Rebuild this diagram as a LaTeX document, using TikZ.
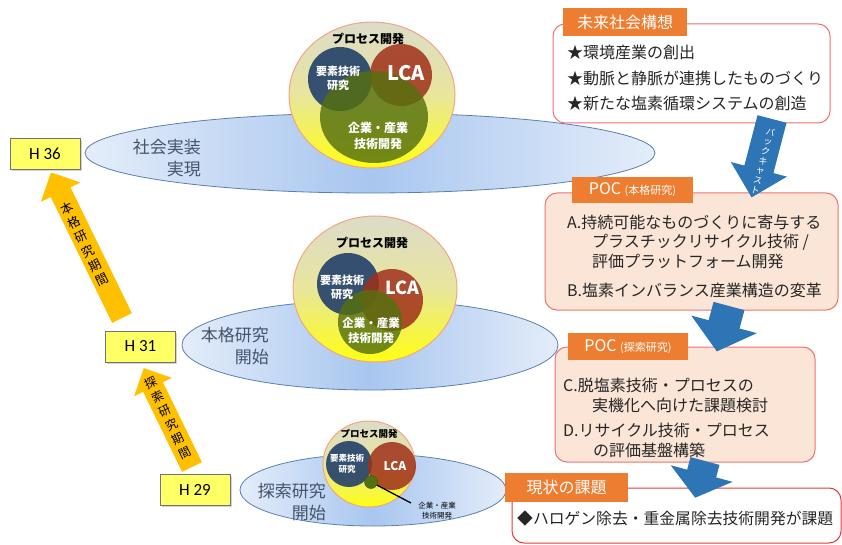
\documentclass[tikz,border=0pt]{standalone}
\usepackage{fontspec}
\setmainfont{Noto Sans CJK JP}
\newfontfamily\hfont{Carlito}
\usetikzlibrary{shapes.geometric,shadows}
\definecolor{orlab}{HTML}{ED7D31}
\definecolor{boxred}{HTML}{F07070}
\definecolor{boxredD}{HTML}{E53935}
\definecolor{peach}{HTML}{FBE5D6}
\definecolor{arrblue}{HTML}{2E75B6}
\definecolor{arrorange}{HTML}{FFC000}
\definecolor{hyellow}{HTML}{FFFF66}
\definecolor{elborder}{HTML}{5B7FAF}
\definecolor{ellight}{HTML}{E4EDFA}
\definecolor{eldark}{HTML}{A8C6EF}
\definecolor{eltext}{HTML}{44546A}
\definecolor{cblue}{HTML}{23406A}
\definecolor{cred}{HTML}{A0301A}
\definecolor{cgreen}{HTML}{55700F}
\definecolor{ctop}{HTML}{DCDBC9}
\definecolor{cmid}{HTML}{E8E69C}
\definecolor{cbot}{HTML}{FFFF10}
\definecolor{crim}{HTML}{F2A585}
\begin{document}
\begin{tikzpicture}[x=1pt,y=-1pt,
  hbox/.style={draw=black!55, line width=1pt, fill=hyellow, minimum width=70pt, minimum height=31pt, inner sep=0pt, font=\hfont\fontsize{17}{19}\selectfont, drop shadow={shadow xshift=1.5pt, shadow yshift=-1.5pt, opacity=0.35}},
  eltxt/.style={text=eltext, align=right, font=\fontsize{17}{22}\selectfont, inner sep=0pt},
  proc/.style={font=\bfseries\fontsize{12}{14}\selectfont, inner sep=0pt},
  ctxt/.style={text=white, font=\bfseries\fontsize{11}{14}\selectfont, align=center, inner sep=0pt},
  lab/.style={fill=orlab, text=white, inner sep=0pt, font=\fontsize{16}{18}\selectfont},
  btxt/.style={anchor=west, inner sep=0pt, text=black!85, font=\fontsize{16}{18}\selectfont},
  boxw/.style={draw=boxred, line width=1pt, fill=white, rounded corners=12pt, inner sep=0pt},
  boxp/.style={draw=boxred, line width=1pt, fill=peach, rounded corners=12pt, inner sep=0pt},
  elpath/.style={draw=elborder, line width=0.8pt, left color=ellight, right color=ellight, middle color=eldark},
  bigc/.style={top color=ctop, bottom color=cbot, middle color=cmid, draw=crim, line width=1pt}
]
\useasboundingbox (0,0) rectangle (842,545);

% ellipses
\path[elpath] (370,153) ellipse [x radius=285, y radius=40];
\path[elpath] (370,345) ellipse [x radius=188, y radius=45];
\path[elpath] (373,490) ellipse [x radius=133, y radius=36];

\node[eltxt, anchor=east] (e1) at (201,158) {社会実装\\実現};
\node[eltxt, anchor=east] (e2) at (269,346) {本格研究\\開始};
\node[eltxt, anchor=east] (e3) at (326,502) {探索研究\\開始};

% group 1
\path[bigc] (372,95) ellipse [x radius=83, y radius=73];
\fill[cblue, fill opacity=0.9] (340,79) circle [radius=32];
\fill[cred, fill opacity=0.85] (401,75) circle [radius=31];
\fill[cgreen, fill opacity=0.82] (374,117) ellipse [x radius=54, y radius=46];
\node[proc] (p1) at (368,39) {プロセス開発};
\node[ctxt] (s1) at (338,78) {要素技術\\研究};
\node[ctxt, font=\bfseries\fontsize{20}{22}\selectfont] (l1) at (406,73) {LCA};
\node[ctxt, font=\bfseries\fontsize{12}{16}\selectfont] (k1) at (378,136) {企業・産業\\技術開発};

% group 2
\path[bigc] (375,289) ellipse [x radius=82, y radius=73];
\fill[cblue, fill opacity=0.9] (348,284) circle [radius=31];
\fill[cred, fill opacity=0.85] (392,300) circle [radius=31];
\fill[cgreen, fill opacity=0.82] (370,322) circle [radius=32];
\node[proc] (p2) at (372,243) {プロセス開発};
\node[ctxt] (s2) at (342,287) {要素技術\\研究};
\node[ctxt, font=\bfseries\fontsize{18}{20}\selectfont] (l2) at (402,288) {LCA};
\node[ctxt, font=\bfseries\fontsize{11.5}{15}\selectfont] (k2) at (371,331) {企業・産業\\技術開発};

% group 3
\path[bigc] (369,464) ellipse [x radius=46, y radius=43];
\fill[cblue, fill opacity=0.9] (349,464) circle [radius=23];
\fill[cred, fill opacity=0.85] (392,466) circle [radius=24];
\node[fill=cgreen, draw=cgreen!70!black, circle, minimum size=13pt, inner sep=0pt] (g3) at (371,482) {};
\coordinate (g3end) at (411,503);
\draw[line width=1.3pt] (g3) -- (g3end);
\node[proc, font=\bfseries\fontsize{9.5}{11}\selectfont] (p3) at (369,434) {プロセス開発};
\node[ctxt, font=\bfseries\fontsize{8.5}{11}\selectfont] (s3) at (347,464) {要素技術\\研究};
\node[ctxt, font=\bfseries\fontsize{12}{14}\selectfont] (l3) at (395,466) {LCA};
\node[align=center, inner sep=0pt, font=\fontsize{7.5}{10}\selectfont] (k3) at (437,511) {企業・産業\\技術開発};

% H boxes
\node[hbox] (h36) at (45,154) {H 36};
\node[hbox] (h31) at (140.5,346.5) {H 31};
\node[hbox] (h29) at (195,489.5) {H 29};

% orange arrows
\begin{scope}[shift={(122,318)}, rotate=26]
\fill[arrorange] (-11,0) -- (-11,-140) -- (-22,-140) -- (0,-162) -- (22,-140) -- (11,-140) -- (11,0) -- cycle;
\end{scope}
\begin{scope}[shift={(192,467)}, rotate=26]
\fill[arrorange] (-11,0) -- (-11,-89) -- (-21,-89) -- (0,-110) -- (21,-89) -- (11,-89) -- (11,0) -- cycle;
\end{scope}
\node[rotate=26, align=center, inner sep=0pt, font=\fontsize{12.5}{16}\selectfont] (t1) at (85,244) {本\\格\\研\\究\\期\\間};
\node[rotate=26, align=center, inner sep=0pt, font=\fontsize{12}{15.5}\selectfont] (t2) at (168,418) {探\\索\\研\\究\\期\\間};

% right boxes
\node[boxw, minimum width=277pt, minimum height=99pt] (bA) at (691.5,73.5) {};
\node[lab, minimum width=124pt, minimum height=28pt] (lA) at (625,22) {未来社会構想};
\node[btxt] (a1) at (567,52) {★環境産業の創出};
\node[btxt] (a2) at (567,78) {★動脈と静脈が連携したものづくり};
\node[btxt] (a3) at (567,103) {★新たな塩素循環システムの創造};

\node[boxp, minimum width=293pt, minimum height=117pt] (bB) at (691.5,251.5) {};
\node[lab, minimum width=121pt, minimum height=26pt] (lB) at (632.5,190) {POC {\fontsize{11}{13}\selectfont (本格研究)}};
\node[btxt] (b1) at (567,222) {A.持続可能なものづくりに寄与する};
\node[btxt] (b2) at (592,242) {プラスチックリサイクル技術 /};
\node[btxt] (b3) at (592,261) {評価プラットフォーム開発};
\node[btxt] (b4) at (567,290) {B.塩素インバランス産業構造の変革};

\node[boxp, minimum width=260pt, minimum height=115pt] (bC) at (685,404.5) {};
\node[lab, minimum width=120pt, minimum height=27pt] (lC) at (628,346.5) {POC {\fontsize{11}{13}\selectfont (探索研究)}};
\node[btxt] (c1) at (563,385) {C.脱塩素技術・プロセスの};
\node[btxt] (c2) at (592,405) {実機化へ向けた課題検討};
\node[btxt] (c3) at (563,430) {D.リサイクル技術・プロセス};
\node[btxt] (c4) at (593,450) {の評価基盤構築};

\node[boxw, draw=boxredD, minimum width=329pt, minimum height=55pt] (bD) at (676.5,515.5) {};
\node[lab, minimum width=123pt, minimum height=29pt] (lD) at (566.5,487.5) {現状の課題};
\node[btxt, font=\fontsize{15.8}{18}\selectfont] (d1) at (517,518) {◆ハロゲン除去・重金属除去技術開発が課題};

% blue arrows
\begin{scope}[shift={(772,119)}, rotate=-14.6]
\fill[arrblue] (-15,0) -- (-15,52) -- (-29,52) -- (0,81) -- (29,52) -- (15,52) -- (15,0) -- cycle;
\end{scope}
\node[rotate=-14.6, align=center, inner sep=0pt, text=white, font=\fontsize{9}{10}\selectfont] (bc) at (763,161) {バ\\ッ\\ク\\キ\\ャ\\ス\\ト};
\begin{scope}[shift={(729,306)}, rotate=-15]
\fill[arrblue] (-16,0) -- (-16,19) -- (-34,19) -- (0,47) -- (34,19) -- (16,19) -- (16,0) -- cycle;
\end{scope}
\begin{scope}[shift={(705,461)}, rotate=-15]
\fill[arrblue] (-15,0) -- (-15,13) -- (-32,13) -- (0,38) -- (32,13) -- (15,13) -- (15,0) -- cycle;
\end{scope}
\end{tikzpicture}
\end{document}
